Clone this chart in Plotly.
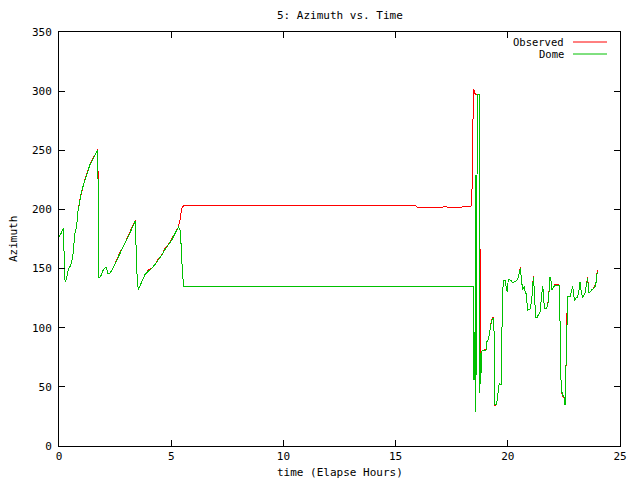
import plotly.graph_objects as go

# Dome azimuth (green) – time in elapsed hours
dome_time = [0.00, 0.10, 0.19, 0.21, 0.25, 0.27, 0.33, 0.41, 0.50, 0.56, 0.63, 0.71, 0.78, 0.85, 0.93,
             1.00, 1.08, 1.16, 1.23, 1.30, 1.38, 1.45, 1.52, 1.60, 1.66, 1.72, 1.74, 1.76, 1.78, 1.85,
             1.95, 2.03, 2.10, 2.18, 2.27, 2.40, 2.55, 2.70, 2.90, 3.09, 3.25, 3.39, 3.42, 3.47, 3.53,
             3.60, 3.68, 3.83, 4.00, 4.13, 4.30, 4.42, 4.60, 4.72, 4.90, 5.02, 5.15, 5.32, 5.39, 5.45,
             5.50, 5.53, 5.56, 18.46, 18.47, 18.48, 18.50, 18.51, 18.53, 18.55, 18.57, 18.58, 18.60,
             18.64, 18.72, 18.74, 18.79, 18.80, 18.82, 18.95, 19.03, 19.06, 19.13, 19.17, 19.23, 19.28,
             19.35, 19.38, 19.40, 19.43, 19.50, 19.53, 19.58, 19.62, 19.70, 19.73, 19.75, 19.80, 19.90,
             19.93, 19.98, 20.02, 20.14, 20.22, 20.32, 20.40, 20.47, 20.51, 20.56, 20.59, 20.63, 20.66,
             20.74, 20.78, 20.84, 20.87, 20.91, 20.99, 21.06, 21.11, 21.14, 21.17, 21.20, 21.24, 21.32,
             21.36, 21.43, 21.47, 21.51, 21.55, 21.58, 21.63, 21.70, 21.76, 21.81, 21.85, 21.88, 21.93,
             21.97, 22.03, 22.10, 22.30, 22.33, 22.36, 22.38, 22.43, 22.47, 22.52, 22.55, 22.58, 22.59,
             22.62, 22.67, 22.77, 22.80, 22.83, 22.89, 22.95, 22.99, 23.04, 23.11, 23.16, 23.19, 23.22,
             23.26, 23.34, 23.40, 23.45, 23.52, 23.56, 23.60, 23.66, 23.74, 23.81, 23.89, 23.93, 23.96,
             23.99]
dome_az = [177, 180, 184, 172, 150, 139, 141, 149, 152, 155, 163, 180, 185, 199, 207,
           215, 220, 225, 230, 235, 238, 240, 243, 246, 248, 250, 223, 168, 142, 143,
           148, 150, 151, 146, 146, 150, 156, 163, 170, 177, 184, 190, 177, 147, 132,
           135, 138, 145, 148, 150, 154, 157, 162, 166, 171, 174, 179, 185, 183, 168,
           146, 135, 135, 135, 108, 56, 96, 56, 90, 56, 29, 229, 60,
           297, 297, 45, 79, 52, 80, 81, 81, 88, 90, 94, 102, 106,
           108, 108, 71, 35, 35, 39, 49, 53, 52, 73, 118, 140, 140,
           133, 130, 141, 140, 138, 139, 140, 143, 147, 150, 144, 138, 132,
           135, 129, 129, 114, 115, 116, 122, 136, 143, 135, 126, 109, 109,
           111, 112, 121, 129, 135, 131, 116, 116, 118, 123, 136, 143, 139,
           132, 134, 136, 136, 114, 69, 46, 45, 42, 41, 35, 62, 62,
           104, 126, 126, 129, 132, 135, 126, 123, 125, 126, 130, 136, 139,
           132, 125, 128, 130, 138, 142, 130, 130, 132, 133, 135, 138, 143,
           147]

# Observed azimuth (red)
obs_time = [0.00, 0.10, 0.19, 0.21, 0.25, 0.27, 0.33, 0.41, 0.50, 0.56, 0.63, 0.71, 0.78, 0.85, 0.93,
            1.00, 1.08, 1.16, 1.23, 1.30, 1.38, 1.45, 1.52, 1.60, 1.66, 1.73, 1.74, 1.76, 1.78, 1.85,
            1.95, 2.03, 2.10, 2.18, 2.27, 2.40, 2.55, 2.70, 2.90, 3.09, 3.25, 3.40, 3.42, 3.47, 3.53,
            3.60, 3.68, 3.83, 4.00, 4.13, 4.30, 4.42, 4.60, 4.72, 4.90, 5.02, 5.15, 5.32, 5.39, 5.47,
            5.55, 15.90, 15.95, 17.10, 17.15, 17.30, 17.95, 18.40, 18.41, 18.44, 18.47, 18.52, 18.56,
            18.73, 18.74, 18.76, 18.79, 18.80, 18.82, 18.95, 19.03, 19.06, 19.13, 19.17, 19.23, 19.28,
            19.35, 19.38, 19.40, 19.43, 19.50, 19.53, 19.58, 19.62, 19.70, 19.73, 19.75, 19.80, 19.90,
            19.93, 19.98, 20.02, 20.14, 20.22, 20.32, 20.40, 20.47, 20.51, 20.56, 20.59, 20.63, 20.66,
            20.74, 20.78, 20.84, 20.87, 20.91, 20.99, 21.06, 21.11, 21.14, 21.17, 21.20, 21.24, 21.32,
            21.36, 21.43, 21.47, 21.51, 21.55, 21.58, 21.63, 21.70, 21.76, 21.81, 21.85, 21.88, 21.93,
            21.97, 22.03, 22.10, 22.30, 22.33, 22.36, 22.38, 22.43, 22.47, 22.52, 22.55, 22.58, 22.59,
            22.62, 22.67, 22.77, 22.80, 22.83, 22.89, 22.95, 22.99, 23.04, 23.11, 23.16, 23.19, 23.22,
            23.26, 23.34, 23.40, 23.45, 23.52, 23.56, 23.60, 23.66, 23.74, 23.81, 23.89, 23.93, 23.96,
            23.99]
obs_az = [177, 180, 184, 172, 150, 139, 141, 149, 152, 155, 163, 180, 185, 199, 208,
          215, 220, 226, 230, 235, 238, 241, 243, 246, 248, 251, 223, 168, 142, 143,
          148, 150, 151, 146, 146, 150, 157, 163, 170, 178, 184, 191, 177, 147, 132,
          135, 138, 145, 149, 150, 154, 158, 162, 167, 171, 175, 179, 185, 191, 201,
          203, 203, 202, 202, 203, 202, 202, 203, 228, 277, 302, 299, 297,
          297, 186, 172, 79, 52, 80, 81, 82, 88, 90, 94, 102, 107,
          109, 108, 71, 34, 35, 39, 49, 53, 52, 73, 118, 140, 140,
          133, 130, 141, 140, 138, 139, 140, 143, 148, 151, 144, 138, 132,
          135, 129, 129, 114, 115, 116, 122, 136, 144, 135, 126, 109, 109,
          111, 112, 121, 130, 135, 131, 116, 116, 118, 124, 136, 143, 139,
          132, 134, 137, 136, 114, 69, 46, 44, 41, 41, 35, 62, 62,
          104, 126, 126, 129, 132, 135, 126, 124, 125, 126, 130, 137, 139,
          132, 125, 128, 130, 138, 143, 130, 130, 132, 133, 136, 138, 144,
          149]

x_ticks = [0, 5, 10, 15, 20, 25]
y_ticks = [0, 50, 100, 150, 200, 250, 300, 350]

FONT = "DejaVu Sans Mono"
RED = "#ff0000"
GREEN = "#00c000"

# plot-area geometry (pixels) matching the reference
L, R, T, B = 59, 620, 32, 446
W, H = 640, 480
PW, PH = R - L, B - T

def px_to_paper_x(px):
    return (px - L) / PW

def py_to_paper_y(py):
    return (B - py) / PH

fig = go.Figure()
fig.add_trace(go.Scatter(x=obs_time, y=obs_az, mode="lines", name="Observed",
                         line=dict(color=RED, width=1)))
fig.add_trace(go.Scatter(x=dome_time, y=dome_az, mode="lines", name="Dome",
                         line=dict(color=GREEN, width=1)))

axis_common = dict(showgrid=False, zeroline=False, showline=True, linecolor="black",
                   linewidth=1, mirror="ticks", ticks="inside", ticklen=6,
                   tickcolor="black", automargin=False,
                   tickfont=dict(family=FONT, size=11, color="black"))

fig.update_xaxes(range=[0, 25], tickvals=x_ticks, ticktext=[str(v) for v in x_ticks],
                 **axis_common)
fig.update_yaxes(range=[0, 350], tickvals=y_ticks, ticktext=[str(v) for v in y_ticks],
                 ticklabelstandoff=4, **axis_common)

# axis titles as annotations placed like gnuplot's
fig.add_annotation(x=0.5, y=py_to_paper_y(472), xref="paper", yref="paper",
                   text="time (Elapse Hours)", showarrow=False, xanchor="center", yanchor="middle",
                   font=dict(family=FONT, size=11, color="black"))
fig.add_annotation(x=px_to_paper_x(13), y=0.5, xref="paper", yref="paper",
                   text="Azimuth", showarrow=False, textangle=-90, xanchor="center", yanchor="middle",
                   font=dict(family=FONT, size=11, color="black"))
fig.add_annotation(x=0.5, y=py_to_paper_y(15), xref="paper", yref="paper",
                   text="5: Azimuth vs. Time", showarrow=False, xanchor="center", yanchor="middle",
                   font=dict(family=FONT, size=11, color="black"))

# gnuplot-style key: text right-aligned, sample line to the right
key_py = [42, 54]
for name, col, py in zip(["Observed", "Dome"], [RED, GREEN], key_py):
    yy = py_to_paper_y(py)
    fig.add_annotation(x=px_to_paper_x(566), y=yy, xref="paper", yref="paper", text=name,
                       showarrow=False, xanchor="right", yanchor="middle",
                       font=dict(family=FONT, size=10.5, color="black"))
    fig.add_shape(type="line", xref="paper", yref="paper",
                  x0=px_to_paper_x(573), x1=px_to_paper_x(607), y0=yy, y1=yy,
                  line=dict(color=col, width=1))

fig.update_layout(
    width=W, height=H,
    margin=dict(l=L, r=W - R, t=T, b=H - B, pad=0, autoexpand=False),
    paper_bgcolor="white", plot_bgcolor="white",
    showlegend=False,
)

post = (
    "document.body.style.margin='0px';document.body.style.padding='0px';"
    "document.querySelectorAll('.scatterlayer path.js-line').forEach(function(p){"
    "p.style.shapeRendering='crispEdges';});"
)
fig.write_html("out.html", config={"displayModeBar": False}, post_script=post)
